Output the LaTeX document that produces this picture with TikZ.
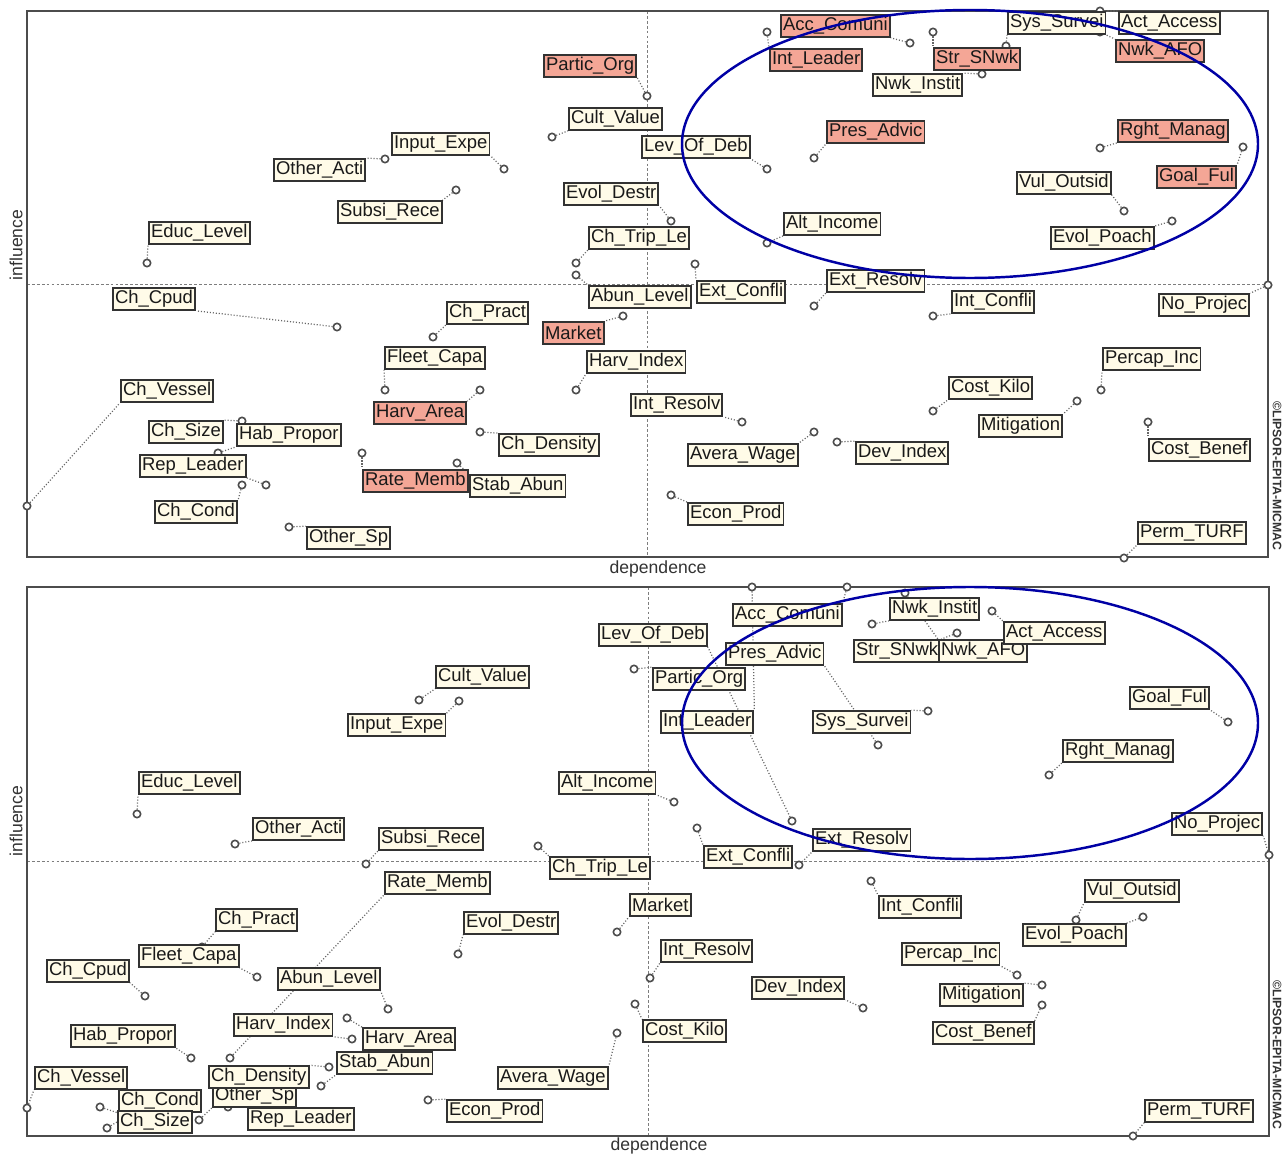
\documentclass[tikz,border=0pt]{standalone}
\usepackage{fontspec}
\setmainfont{Liberation Sans}
\pgfdeclarelayer{bg}
\pgfsetlayers{bg,main}
\definecolor{cream}{RGB}{255,251,232}
\definecolor{salmon}{RGB}{244,166,150}
\definecolor{boxline}{RGB}{50,50,50}
\definecolor{ringblue}{RGB}{0,0,165}
\definecolor{axisgray}{RGB}{125,125,125}
\tikzset{
  lbl/.style={draw=boxline, line width=1.1pt, font=\fontsize{10.5}{12}\selectfont,
    inner xsep=1.2pt, inner ysep=0pt, minimum height=12.4pt, text=black!90},
  lblc/.style={lbl, fill=cream},
  lbls/.style={lbl, fill=salmon},
  pt/.style={circle, draw=black!70, fill=white, line width=0.9pt, inner sep=0pt, minimum size=4.2pt},
  leader/.style={draw=black!60, dash pattern=on 0.6pt off 1.1pt, line width=0.7pt},
  frame/.style={draw=black!70, line width=0.9pt},
  midline/.style={draw=axisgray, dash pattern=on 1.6pt off 1.2pt, line width=0.5pt},
  ring/.style={draw=ringblue, line width=1.4pt},
  axlbl/.style={font=\fontsize{10}{12}\selectfont, text=black!80},
  copyr/.style={font=\fontsize{7}{8}\selectfont\bfseries, text=black!80, rotate=-90}
}
% label / label x / label y / point x / point y / leader anchor / fill
\newcommand\toplist{Other\_Acti/273/170/385/159/north east/c,
  Input\_Expe/391/144/504/169/south east/c,
  Subsi\_Rece/337/212/456/190/north east/c,
  Educ\_Level/148/233/147/263/south west/c,
  Partic\_Org/543/66/647/96/south east/s,
  Cult\_Value/568/119/552/137/south west/c,
  Lev\_Of\_Deb/641/147/767/169/south east/c,
  Evol\_Destr/563/194/671/221/south east/c,
  Ch\_Trip\_Le/588/238/576/263/south west/c,
  Acc\_Comuni/780/26/910/43/south east/s,
  Int\_Leader/769/60/767/32/north west/s,
  Pres\_Advic/826/132/814/158/south west/s,
  Alt\_Income/783/224/767/243/south west/c,
  Ext\_Resolv/826/281/814/306/south west/c,
  Sys\_Survei/1007/23/1006/46/south west/c,
  Act\_Access/1118/23/1100/11/north west/c,
  Nwk\_AFO/1115/51/1100/32/north west/s,
  Str\_SNwk/933/59/933/32/north west/s,
  Nwk\_Instit/872/85/982/74/north east/c,
  Rght\_Manag/1117/131/1100/148/south west/s,
  Goal\_Ful/1156/177/1243/147/north east/s,
  Vul\_Outsid/1016/183/1124/211/south east/c,
  Evol\_Poach/1050/238/1172/221/north east/c,
  No\_Projec/1158/305/1268/285/north east/c,
  Ch\_Cpud/112/299/337/327/south east/c,
  Ch\_Vessel/120/391/27/506/south west/c,
  Ch\_Size/148/432/242/421/north east/c,
  Hab\_Propor/236/435/218/453/south west/c,
  Rep\_Leader/139/466/266/485/south east/c,
  Ch\_Cond/154/512/242/485/north east/c,
  Other\_Sp/306/538/289/527/north west/c,
  Fleet\_Capa/384/358/385/390/south west/c,
  Harv\_Area/373/413/480/390/north east/s,
  Rate\_Memb/362/481/362/453/north west/s,
  Abun\_Level/588/297/576/275/north west/c,
  Ext\_Confli/696/292/695/264/north west/c,
  Ch\_Pract/446/313/433/337/south west/c,
  Market/542/333/623/316/north east/s,
  Harv\_Index/586/362/576/390/south west/c,
  Int\_Resolv/630/405/742/422/south east/c,
  Ch\_Density/498/445/480/432/north west/c,
  Stab\_Abun/469/486/457/463/north west/c,
  Avera\_Wage/687/455/814/432/north east/c,
  Econ\_Prod/687/514/671/495/north west/c,
  Dev\_Index/855/453/837/442/north west/c,
  Int\_Confli/951/302/933/316/south west/c,
  Percap\_Inc/1102/359/1101/390/south west/c,
  Cost\_Kilo/948/388/933/411/south west/c,
  Mitigation/978/426/1077/401/north east/c,
  Cost\_Benef/1148/450/1148/422/north west/c,
  Perm\_TURF/1137/533/1124/558/south west/c}
\newcommand\botlist{Cult\_Value/435/677/419/700/south west/c,
  Input\_Expe/347/725/459/701/north east/c,
  Educ\_Level/138/783/137/814/south west/c,
  Other\_Acti/252/829/235/844/south west/c,
  Subsi\_Rece/378/839/366/864/south west/c,
  Lev\_Of\_Deb/598/635/792/821/south east/c,
  Partic\_Org/652/679/634/669/north west/c,
  Int\_Leader/660/722/752/587/north east/c,
  Acc\_Comuni/732/615/847/587/north east/c,
  Pres\_Advic/725/654/878/745/south east/c,
  Sys\_Survei/812/722/928/711/north east/c,
  Nwk\_Instit/889/609/872/624/south west/c,
  Str\_SNwk/853/651/957/633/north east/c,
  Nwk\_AFO/938/651/905/593/north west/c,
  Act\_Access/1003/633/992/611/north west/c,
  Goal\_Ful/1129/698/1228/722/south east/c,
  Rght\_Manag/1062/751/1049/775/south west/c,
  No\_Projec/1171/824/1269/855/south east/c,
  Ext\_Resolv/812/840/799/865/south west/c,
  Ext\_Confli/703/857/697/828/north west/c,
  Alt\_Income/558/783/674/802/south east/c,
  Ch\_Trip\_Le/549/868/538/846/north west/c,
  Rate\_Memb/384/883/230/1058/south west/c,
  Ch\_Pract/215/920/202/947/south west/c,
  Fleet\_Capa/138/956/257/977/south east/c,
  Ch\_Cpud/46/971/145/996/south east/c,
  Abun\_Level/277/979/388/1009/south east/c,
  Harv\_Index/233/1025/352/1039/south east/c,
  Harv\_Area/362/1039/347/1018/north west/c,
  Hab\_Propor/70/1036/191/1058/south east/c,
  Other\_Sp/212/1096/199/1120/south west/c,
  Ch\_Density/208/1077/329/1067/north east/c,
  Stab\_Abun/336/1063/321/1086/south west/c,
  Ch\_Vessel/34/1078/27/1108/south west/c,
  Ch\_Cond/118/1101/100/1107/south west/c,
  Ch\_Size/117/1122/107/1128/west/c,
  Rep\_Leader/247/1119/228/1107/north west/c,
  Econ\_Prod/446/1111/428/1100/north west/c,
  Evol\_Destr/463/923/458/954/south west/c,
  Market/629/905/617/932/south west/c,
  Int\_Resolv/660/951/650/978/south west/c,
  Dev\_Index/751/988/863/1008/south east/c,
  Cost\_Kilo/642/1031/635/1004/north west/c,
  Avera\_Wage/497/1078/617/1033/north east/c,
  Int\_Confli/878/907/871/881/north west/c,
  Vul\_Outsid/1084/891/1076/920/south west/c,
  Evol\_Poach/1022/935/1143/917/north east/c,
  Percap\_Inc/901/954/1017/975/south east/c,
  Mitigation/939/995/1042/985/north east/c,
  Cost\_Benef/932/1033/1042/1005/north east/c,
  Perm\_TURF/1144/1111/1133/1136/south west/c}

\begin{document}
\begin{tikzpicture}[x=0.02cm, y=-0.02cm]
  \useasboundingbox (0,0) rectangle (1284,1155);

  % frames and mid lines
  \begin{pgfonlayer}{bg}
    \fill[white] (0,0) rectangle (1284,1155);
    \draw[midline] (27,284) -- (1268,284);
    \draw[midline] (647,11) -- (647,557);
    \draw[frame] (27,11) rectangle (1268,557);
    \draw[midline] (27,861) -- (1269,861);
    \draw[midline] (648,587) -- (648,1136);
    \draw[frame] (27,587) rectangle (1269,1136);
  \end{pgfonlayer}

  % upper map
  \foreach \tx/\lx/\ly/\px/\py/\an/\fc [count=\i] in \toplist {
    \node[lbl\fc, anchor=west] (a\i) at (\lx,\ly) {\tx};
    \begin{pgfonlayer}{bg}
      \node[pt] (ap\i) at (\px,\py) {};
      \draw[leader] (ap\i) -- (a\i.\an);
    \end{pgfonlayer}
  }
  \draw[ring] (970,144) ellipse (288 and 134);

  % lower map
  \foreach \tx/\lx/\ly/\px/\py/\an/\fc [count=\i] in \botlist {
    \node[lbl\fc, anchor=west] (b\i) at (\lx,\ly) {\tx};
    \begin{pgfonlayer}{bg}
      \node[pt] (bp\i) at (\px,\py) {};
      \draw[leader] (bp\i) -- (b\i.\an);
    \end{pgfonlayer}
  }
  \draw[ring] (970,723) ellipse (288 and 136);

  % axis names
  \node[axlbl, rotate=90] (infa) at (16,245) {influence};
  \node[axlbl] (depa) at (658,569) {dependence};
  \node[copyr] (cpa) at (1277,476) {©LIPSOR-EPITA-MICMAC};
  \node[axlbl, rotate=90] (infb) at (16,821) {influence};
  \node[axlbl] (depb) at (659,1146) {dependence};
  \node[copyr] (cpb) at (1277,1055) {©LIPSOR-EPITA-MICMAC};
\end{tikzpicture}
\end{document}
